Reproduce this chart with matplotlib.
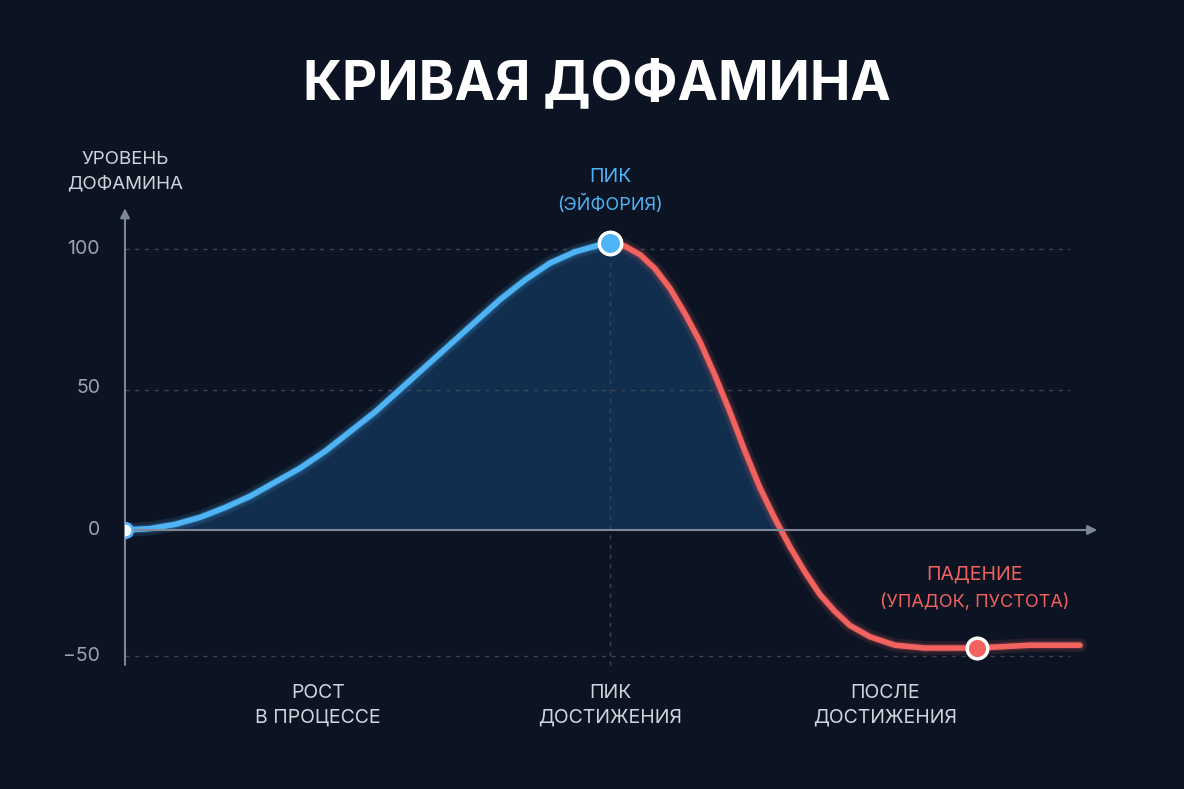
import numpy as np
import matplotlib.pyplot as plt

plt.rcParams['font.family'] = ['Inter', 'DejaVu Sans']

# curve (x: time units, y: dopamine level)
rise_x = [0, 25, 50, 75, 100, 125, 150, 175, 200, 225, 250, 275, 300, 325, 350,
          375, 400, 425, 450, 475, 485]
rise_y = [0, 0.5, 2, 4.5, 8, 12, 17, 22, 28, 35, 42, 50, 58, 66, 74,
          82, 89, 95, 99, 101.5, 102]
fall_x = [485, 500, 515, 530, 545, 560, 575, 590, 605, 620, 635, 650, 665, 680,
          695, 710, 725, 745, 770, 800, 852, 905, 955]
fall_y = [102, 101, 98, 93, 86, 77, 67, 55, 42, 28, 15, 4, -6, -15,
          -23, -29, -34, -38, -41, -42, -42, -41, -41]
peak = (485, 102)
drop = (852, -42)
ticks = [100, 50, 0, -50]
bottom_labels = ['РОСТ\nВ ПРОЦЕССЕ', 'ПИК\nДОСТИЖЕНИЯ', 'ПОСЛЕ\nДОСТИЖЕНИЯ']
bottom_x = [193, 485, 760]

bg = '#0c1423'
blue = '#4fb4f5'
red = '#f2625f'
grey = '#9aa3b0'

fig = plt.figure(figsize=(11.84, 7.89), dpi=100, facecolor=bg)
W, H = 1184, 789
# axes: pixel x 125..1100, pixel y 205..680
ax = fig.add_axes([125 / W, 1 - 680 / H, 975 / W, 475 / H])
ax.set_facecolor('none')
ax.set_xlim(0, 975)
ax.set_ylim((530 - 680) / 2.81, (530 - 205) / 2.81)
ax.axis('off')

for v in [100, 50, -45]:
    ax.plot([0, 945], [v, v], ls=(0, (3, 4)), color='#3a4556', lw=1)
ax.plot([peak[0], peak[0]], [peak[1], -50], ls=(0, (3, 4)), color='#3a4556', lw=1)

# axes arrows
ax.annotate('', xy=(975, 0), xytext=(0, 0),
            arrowprops=dict(arrowstyle='-|>', color='#7d8796', lw=1.5, mutation_scale=14))
ax.annotate('', xy=(0, 115.5), xytext=(0, -49),
            arrowprops=dict(arrowstyle='-|>', color='#7d8796', lw=1.5, mutation_scale=14))

all_x = rise_x + fall_x[1:]
all_y = rise_y + fall_y[1:]
ax.fill_between(all_x, all_y, 0, where=np.array(all_y) >= 0, interpolate=True,
                color='#1a4f86', alpha=0.45, lw=0)

for lw, a in [(10, 0.12), (6, 0.2)]:
    ax.plot(rise_x, rise_y, color=blue, lw=lw, alpha=a, solid_capstyle='round')
    ax.plot(fall_x, fall_y, color=red, lw=lw, alpha=a, solid_capstyle='round')
ax.plot(rise_x, rise_y, color=blue, lw=4, solid_capstyle='round', solid_joinstyle='round')
ax.plot(fall_x, fall_y, color=red, lw=4, solid_capstyle='round', solid_joinstyle='round')

ax.scatter([0], [0], s=110, color='white', edgecolor=blue, lw=2, zorder=5)
ax.scatter([peak[0]], [peak[1]], s=260, color=blue, edgecolor='white', lw=2.5, zorder=5)
ax.scatter([drop[0]], [drop[1]], s=220, color=red, edgecolor='white', lw=2.5, zorder=5)

tick_pix = [249, 388, 530, 656]
for t, py in zip(ticks, tick_pix):
    fig.text(100 / W, 1 - py / H, '−50' if t < 0 else str(t), ha='right', va='center',
             color=grey, fontsize=14)

def ftext(x, y, s, **kw):
    fig.text(x / W, 1 - y / H, s, ha='center', va='center', **kw)

ftext(597, 85, 'КРИВАЯ ДОФАМИНА', color='white', fontsize=39, fontweight='bold')
ftext(125, 172, 'УРОВЕНЬ\nДОФАМИНА', color='#d0d5dc', fontsize=13.5, linespacing=1.6)
ftext(610, 177, 'ПИК', color=blue, fontsize=14)
ftext(610, 204, '(ЭЙФОРИЯ)', color=blue, fontsize=13)
ftext(975, 575, 'ПАДЕНИЕ', color=red, fontsize=14)
ftext(975, 602, '(УПАДОК, ПУСТОТА)', color=red, fontsize=13)
for s, x in zip(bottom_labels, bottom_x):
    ftext(x + 125, 705, s, color='#d0d5dc', fontsize=14, linespacing=1.5)

fig.savefig('out.png', dpi=100, facecolor=bg)
